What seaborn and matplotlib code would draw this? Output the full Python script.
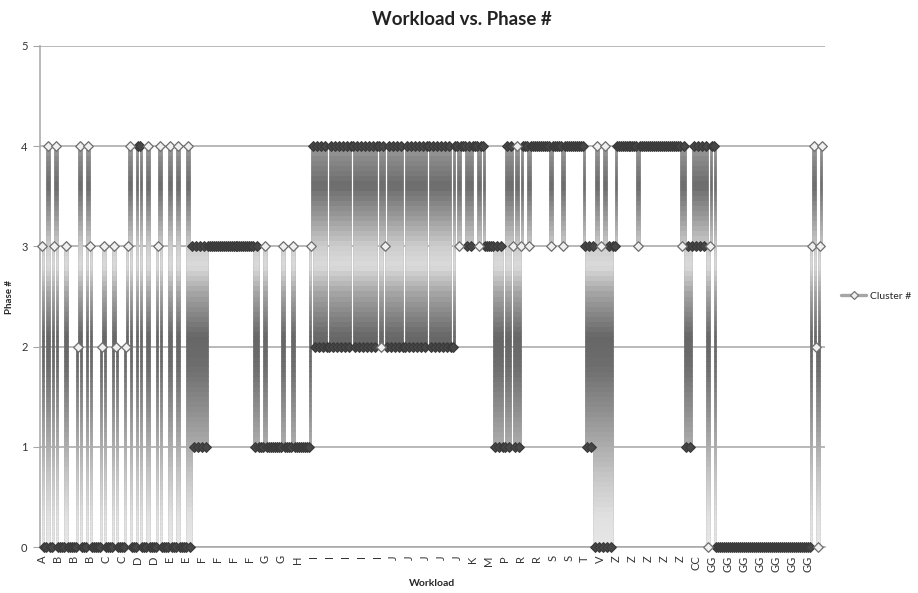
import numpy as np
import pandas as pd
import seaborn as sns
import matplotlib.pyplot as plt
from matplotlib.lines import Line2D
from matplotlib.patches import Rectangle

# Phase # per sample left to right, one digit per sample
phase_a_to_e = ("3004003400" "0030000024" "0004300000" "2300003200"
                "0023400044" "0004000034" "0000400040" "00040")
phase_f_to_h = ("3131313133" "3333333333" "3333333333" "33131"
                "1131111111" "1311113111" "11111")
phase_i_to_k = ("3" "424242422" "424242424244" "2424242424244"
                "2432424242422" "424242424244" "242424242422" "443444343444344")
phase_m_to_v = ("3333313131" "1414314134" "4434444444" "4443444443"
                "4444444444" "3131304030" "4030334")
phase_z_to_gg = ("4444444444" "3444444444" "4444444444" "4434131343"
                 "4343403440" "0000000000" "0000000000" "0000000000"
                 "0000000000" "000000" "0342034")

# category labels Excel printed (one every 8 samples)
workload_ticks = ["A", "B", "B", "B", "C", "C", "D", "D", "E", "E",
                  "F", "F", "F", "F", "G", "G", "H",
                  "I", "I", "I", "I", "I", "J", "J", "J", "J", "J",
                  "K", "M", "P", "R", "R", "S", "S", "T", "V",
                  "Z", "Z", "Z", "Z", "Z", "CC",
                  "GG", "GG", "GG", "GG", "GG", "GG", "GG"]
tick_every = 8

phase = np.array([int(c) for c in phase_a_to_e + phase_f_to_h + phase_i_to_k
                  + phase_m_to_v + phase_z_to_gg])
df = pd.DataFrame({"sample": np.arange(len(phase)), "phase": phase})

# markers sitting in a run of overlapping markers look dark in the original
near = np.zeros(len(phase), dtype=bool)
for d in (1, 2):
    near[d:] |= phase[d:] == phase[:-d]
    near[:-d] |= phase[:-d] == phase[d:]
df["packed"] = near

# grey level of the line as a function of height (the Excel gradient line)
grad_y = [-0.2, 0.3, 0.7, 1.0, 1.4, 1.8, 2.1, 2.5, 2.8, 3.0, 3.3, 3.6, 3.9, 4.0, 4.3]
grad_g = [0.92, 0.88, 0.78, 0.68, 0.55, 0.43, 0.40, 0.62, 0.86, 0.80, 0.60, 0.42, 0.55, 0.62, 0.62]

sns.set_style("white")
plt.rcParams["font.family"] = ["Lato", "DejaVu Sans"]

fig = plt.figure(figsize=(9.18, 5.93), dpi=100)
ax = fig.add_axes([40 / 918, 46 / 593, 785 / 918, 501 / 593])

LW = 1.8
sns.lineplot(data=df, x="sample", y="phase", estimator=None, sort=False,
             color="0.6", linewidth=LW, drawstyle="steps-mid", zorder=2,
             legend=False, ax=ax)

edges = np.linspace(-0.1, 4.2, 87)
for lo, hi in zip(edges[:-1], edges[1:]):
    g = np.interp((lo + hi) / 2, grad_y, grad_g)
    ln, = ax.plot(df["sample"], df["phase"], color=str(g), lw=LW,
                  drawstyle="steps-mid", zorder=2.5)
    ln.set_clip_path(Rectangle((-10, lo), 420, hi - lo + 0.005, transform=ax.transData))

sns.scatterplot(data=df[df["packed"]], x="sample", y="phase", marker="D", s=24,
                color="#474747", edgecolor="#3a3a3a", linewidth=0.9,
                zorder=4, clip_on=False, legend=False, ax=ax)
sns.scatterplot(data=df[~df["packed"]], x="sample", y="phase", marker="D", s=24,
                color="#f0f0f0", edgecolor="#6e6e6e", linewidth=0.9,
                zorder=5, clip_on=False, legend=False, ax=ax)

ax.set_xlim(-1, len(phase) + 0.5)
ax.set_ylim(0, 5)
ax.set_yticks(range(6))
ax.set_xticks(np.arange(len(workload_ticks)) * tick_every)
ax.set_xticklabels(workload_ticks, rotation=90, fontsize=8, color="#333333")
ax.tick_params(axis="x", length=0, pad=6)
ax.tick_params(axis="y", length=5, color="#a6a6a6", labelsize=8,
               labelcolor="#333333", pad=4, direction="out", left=True)
ax.yaxis.grid(True, color="#a6a6a6", lw=1.1)
ax.set_axisbelow(True)
for s in ["top", "right"]:
    ax.spines[s].set_visible(False)
for s in ["left", "bottom"]:
    ax.spines[s].set_color("#a6a6a6")
    ax.spines[s].set_linewidth(1.1)

ax.set_xlabel("Workload", fontsize=7.5, fontweight="bold", labelpad=5)
ax.set_ylabel("Phase #", fontsize=7, fontweight="bold", labelpad=5)

fig.text(0.503, 0.967, "Workload vs. Phase #", ha="center", va="center",
         fontsize=13.5, fontweight="bold", color="#222222")

handle = Line2D([], [], color="0.65", lw=2.4, marker="D", ms=4.5,
                mfc="#efefef", mec="#777777", mew=0.9)
fig.legend([handle], ["Cluster #"], loc="center left",
           bbox_to_anchor=(832 / 918, 1 - 296 / 593), frameon=False,
           fontsize=7.5, handlelength=2.4, handletextpad=0.3)

fig.savefig("out.png", dpi=100)
